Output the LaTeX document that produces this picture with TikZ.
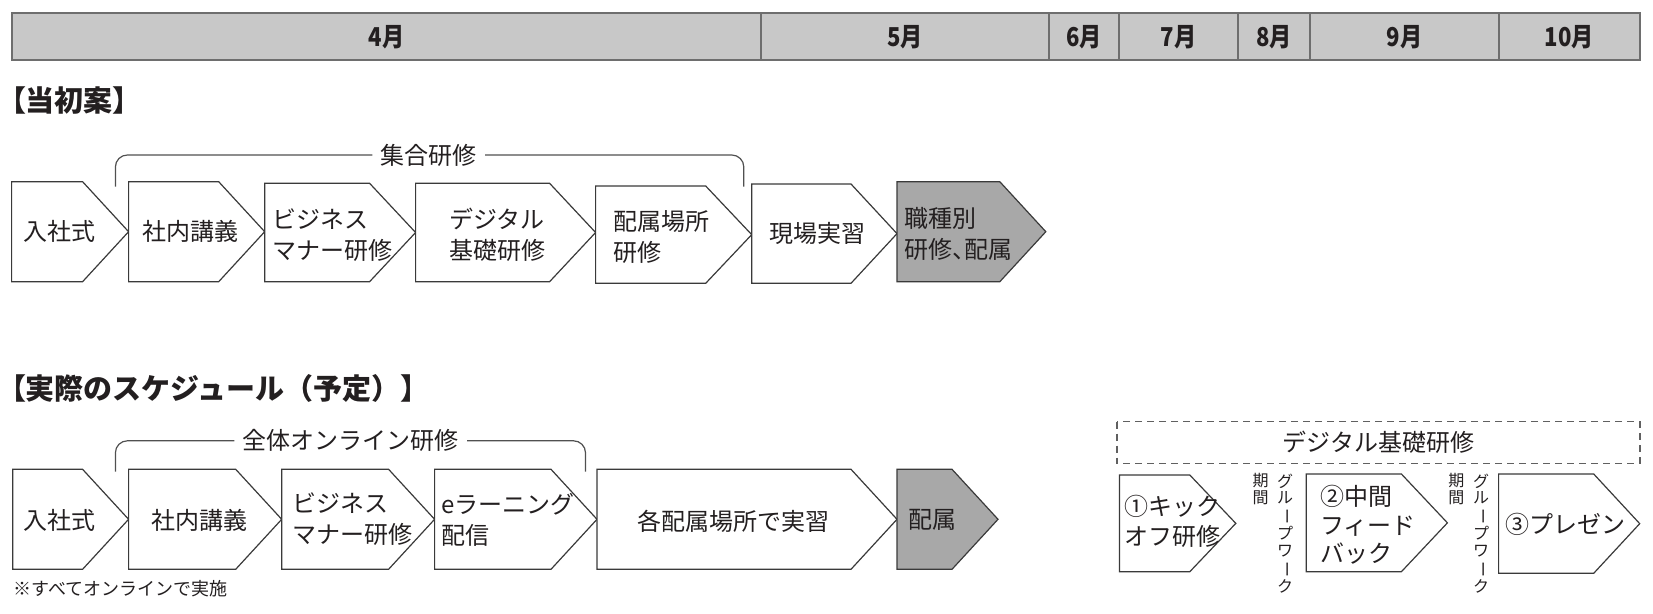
\documentclass[tikz,border=0pt]{standalone}
\usepackage{fontspec}
\usepackage{graphicx}
\setmainfont{Noto Sans CJK JP}
\newfontfamily\hdrfont{Noto Sans CJK JP}[FakeStretch=0.85]
\newfontfamily\paltfont{Noto Sans CJK JP}[RawFeature=+palt]
\definecolor{txt}{HTML}{231F20}
\definecolor{hdrfill}{HTML}{C8C8C8}
\definecolor{hdrline}{HTML}{6E6E6E}
\definecolor{boxline}{HTML}{3A3A3A}
\definecolor{darkfill}{HTML}{A8A8A8}
\definecolor{brcol}{HTML}{505050}
\definecolor{dashcol}{HTML}{606060}
\newcommand\vbar{\rotatebox[origin=c]{-90}{ー}}
\newcommand\hcell[4]{%
  \draw[hdrbox] (#2,13.3) rectangle (#3,60);
  \node[hdrtext] (#1) at ({(#2+#3)/2},37) {#4};}
\newcommand\mychev[5]{%
  \draw[chevline,fill=#5] (#1,#3) -- ({#2-46},#3) -- (#2,{(#3+#4)/2}) -- ({#2-46},#4) -- (#1,#4) -- cycle;}
\begin{document}
\begin{tikzpicture}[x=0.5pt,y=-0.5pt,
  hdrbox/.style={draw=hdrline,line width=1pt,fill=hdrfill},
  hdrtext/.style={font=\hdrfont\bfseries\fontsize{13pt}{15pt}\selectfont,text=txt,inner sep=0},
  chevline/.style={draw=boxline,line width=0.6pt,line join=miter},
  boxtext/.style={font=\fontsize{12pt}{15.5pt}\selectfont,text=txt,inner sep=0,align=left,anchor=west},
  titletext/.style={font=\bfseries\fontsize{14.5pt}{16pt}\selectfont,text=txt,inner sep=0,anchor=west},
  brlabel/.style={font=\fontsize{12pt}{14pt}\selectfont,text=txt,inner xsep=4pt,inner ysep=0},
  brline/.style={draw=brcol,line width=0.6pt,rounded corners=6pt},
  vtext/.style={font=\fontsize{8pt}{8.2pt}\selectfont,text=txt,inner sep=0,align=center,anchor=north},
  notetext/.style={font=\fontsize{9pt}{11pt}\selectfont,text=txt,inner sep=0,anchor=west},
  dashbox/.style={draw=dashcol,line width=0.6pt,dash pattern=on 3.5pt off 2.5pt}]
\useasboundingbox (0,0) rectangle (1653,614);

% header
\hcell{m4}{11.6}{761.3}{4月}
\hcell{m5}{761.3}{1048.5}{5月}
\hcell{m6}{1048.5}{1119.2}{6月}
\hcell{m7}{1119.2}{1238.2}{7月}
\hcell{m8}{1238.2}{1310.4}{8月}
\hcell{m9}{1310.4}{1498.5}{9月}
\hcell{m10}{1498.5}{1639.9}{10月}

% titles
\node[titletext] (title1) at (11,100.8) {{\paltfont 【}当初案{\paltfont 】}};
\node[titletext] (title2) at (11,388) {{\paltfont 【}実際のスケジュール（予定）】};

% top bracket
\coordinate (b1l) at (115.4,186.7);
\coordinate (b1r) at (743.8,186.7);
\node[brlabel] (lab1) at (428.7,155) {集合研修};
\draw[brline] (b1l) |- (lab1.west);
\draw[brline] (b1r) |- (lab1.east);

% top row
\mychev{11.6}{128.6}{181.7}{281.7}{white}
\mychev{128.6}{264.7}{181.7}{281.7}{white}
\mychev{264.7}{415.6}{183.3}{281.7}{white}
\mychev{415.6}{595.6}{183.3}{281.7}{white}
\mychev{595.6}{751.7}{186}{283.3}{white}
\mychev{751.7}{897}{184}{283.3}{white}
\mychev{897}{1045.8}{181.7}{281.7}{darkfill}
\node[boxtext] (t1) at (23,231.7) {入社式};
\node[boxtext] (t2) at (142,231.7) {社内講義};
\node[boxtext] (t3) at (272,235) {ビジネス\\マナー研修};
\node[boxtext] (t4) at (449,235) {デジタル\\基礎研修};
\node[boxtext] (t5) at (613,237) {配属場所\\研修};
\node[boxtext] (t6) at (769,233.5) {現場実習};
\node[boxtext] (t7) at (904,234) {職種別\\研修{\paltfont 、}配属};

% bottom bracket
\coordinate (b2l) at (115.4,471.7);
\coordinate (b2r) at (585.5,471.7);
\node[brlabel] (lab2) at (350.8,440.8) {全体オンライン研修};
\draw[brline] (b2l) |- (lab2.west);
\draw[brline] (b2r) |- (lab2.east);

% bottom row
\mychev{12.7}{128.6}{469.3}{569.3}{white}
\mychev{128.6}{281.7}{469.3}{569.3}{white}
\mychev{281.7}{434.6}{469.3}{569.3}{white}
\mychev{434.6}{597}{469.3}{569.3}{white}
\mychev{597}{897}{469.3}{569.3}{white}
\mychev{897}{998}{469.3}{569.3}{darkfill}
\node[boxtext] (u1) at (23,520) {入社式};
\node[boxtext] (u2) at (151,520) {社内講義};
\node[boxtext] (u3) at (292,519) {ビジネス\\マナー研修};
\node[boxtext] (u4) at (441,520) {eラーニング\\配信};
\node[boxtext] (u5) at (637,521) {各配属場所で実習};
\node[boxtext] (u6) at (908,520) {配属};
\node[notetext] (note) at (13,589) {※すべてオンラインで実施};

% right panel
\draw[dashbox] (1117,421.7) rectangle (1640,463.3);
\node[brlabel] (dg) at (1378.5,442.5) {デジタル基礎研修};
\mychev{1119.4}{1235.8}{475}{571.7}{white}
\mychev{1306.3}{1447.4}{474}{571.7}{white}
\mychev{1498.6}{1639.7}{474}{573.3}{white}
\node[boxtext,font=\fontsize{12pt}{15pt}\selectfont] (r1) at (1124,521.7) {①キック\\オフ研修};
\node[boxtext,font=\fontsize{12pt}{14.3pt}\selectfont] (r2) at (1320,525) {②中間\\フィード\\バック};
\node[boxtext] (r3) at (1505,524) {③プレゼン};
\node[vtext] (v1a) at (1260.5,473.3) {期\\間};
\node[vtext] (v1b) at (1285.2,473.3) {グ\\ル\\\vbar\\プ\\ワ\\\vbar\\ク};
\node[vtext] (v2a) at (1456.3,473.3) {期\\間};
\node[vtext] (v2b) at (1481,473.3) {グ\\ル\\\vbar\\プ\\ワ\\\vbar\\ク};
\end{tikzpicture}
\end{document}
